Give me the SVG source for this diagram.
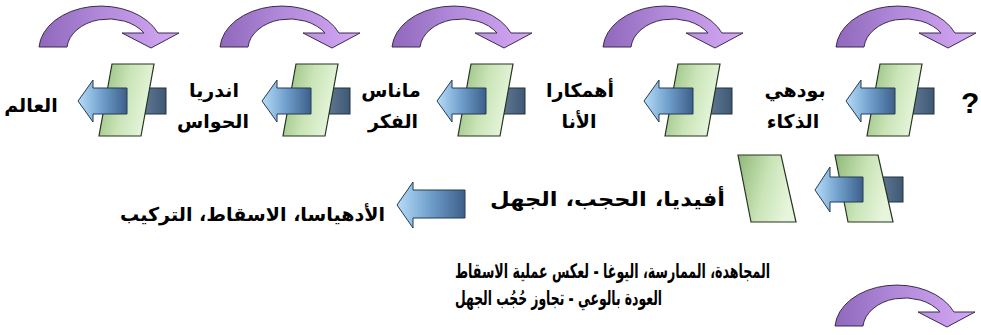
<svg xmlns="http://www.w3.org/2000/svg" xmlns:xlink="http://www.w3.org/1999/xlink" width="981" height="335" viewBox="0 0 981 335">
<style>
.ar{font-family:'DejaVu Sans','Noto Sans',sans-serif;font-weight:bold;fill:#000;}
.lbl{font-size:19px;text-anchor:middle;}
.curve{fill:url(#gPurple);stroke:#3b2b4c;stroke-width:1;}
.tail{fill:url(#gSlate);stroke:#22323f;stroke-width:1;}
.page{fill:url(#gGreen);stroke:#263522;stroke-width:1.2;}
.barrow{fill:url(#gBlue);stroke:#243a55;stroke-width:1;}
</style>
<defs>
<linearGradient id="gPurple" x1="0" y1="0" x2="1" y2="0">
<stop offset="0" stop-color="#9068bc"/>
<stop offset="0.45" stop-color="#b28ada"/>
<stop offset="1" stop-color="#d4a8f4"/>
</linearGradient>
<linearGradient id="gSlate" x1="0" y1="0" x2="1" y2="0">
<stop offset="0" stop-color="#6e88a4"/>
<stop offset="1" stop-color="#3f5874"/>
</linearGradient>
<linearGradient id="gGreen" x1="0" y1="0" x2="1" y2="0.3">
<stop offset="0" stop-color="#8fb878"/>
<stop offset="0.55" stop-color="#c9e4b6"/>
<stop offset="1" stop-color="#e6f5dc"/>
</linearGradient>
<linearGradient id="gBlue" x1="0" y1="0" x2="1" y2="0">
<stop offset="0" stop-color="#b6dcf8"/>
<stop offset="0.5" stop-color="#6f9ecb"/>
<stop offset="1" stop-color="#3d5f8a"/>
</linearGradient>
<path id="curved" class="curve" d="M43,47 A62,44 0 0 1 162,33 L183,33 L155,48 L126,33 L148,33 A42,31 0 0 0 71,47 Z"/>
<g id="glyphR">
<rect class="tail" x="55" y="-13" width="33" height="26"/>
<polygon class="page" points="34,-37 76,-37 63,35 21,35"/>
<path class="barrow" d="M0,0 L15,-21 L15,-13 L49,-13 L49,13 L15,13 L15,21 Z"/>
</g>
</defs>

<g id="connectors">
<use xlink:href="#curved" transform="translate(-4,0)"/>
<use xlink:href="#curved" transform="translate(177,0)"/>
<use xlink:href="#curved" transform="translate(349,0)"/>
<use xlink:href="#curved" transform="translate(560,0)"/>
<use xlink:href="#curved" transform="translate(793,0)"/>
<use xlink:href="#curved" transform="translate(792,279)"/>
</g>

<g id="node-question">
<use xlink:href="#glyphR" transform="translate(846,101)"/>
<text x="961" y="113" font-family="'Liberation Sans',Arial,sans-serif" font-weight="bold" font-size="30">?</text>
</g>
<g id="node-buddhi">
<use xlink:href="#glyphR" transform="translate(644,101)"/>
<text class="ar lbl" x="795" y="97">بودهي</text>
<text class="ar lbl" x="793" y="128">الذكاء</text>
</g>
<g id="node-ahamkara">
<use xlink:href="#glyphR" transform="translate(437,101)"/>
<text class="ar lbl" x="580" y="97">أهمكارا</text>
<text class="ar lbl" x="579" y="128">الأنا</text>
</g>
<g id="node-manas">
<use xlink:href="#glyphR" transform="translate(262,101)"/>
<text class="ar lbl" x="391" y="97">ماناس</text>
<text class="ar lbl" x="393" y="128">الفكر</text>
</g>
<g id="node-indriya">
<use xlink:href="#glyphR" transform="translate(78,101)"/>
<text class="ar lbl" x="214" y="97">اندريا</text>
<text class="ar lbl" x="213" y="128">الحواس</text>
</g>
<g id="node-world">
<text class="ar lbl" x="31" y="112">العالم</text>
</g>

<g id="node-avidya">
<polygon class="page" points="738,155 781,155 796,222 751,222"/>
<rect class="tail" x="870" y="177" width="33" height="25"/>
<polygon class="page" points="835,155 878,155 893,222 848,222"/>
<path class="barrow" d="M815,190 L830,167 L830,177 L863,177 L863,202 L830,202 L830,212 Z"/>
<text class="ar" x="490" y="206" font-size="20" textLength="235" lengthAdjust="spacingAndGlyphs">أفيديا، الحجب، الجهل</text>
</g>
<g id="node-adhyasa">
<path class="barrow" d="M397,205 L413,182 L413,190 L465,190 L465,218 L413,218 L413,228 Z"/>
<text class="ar" x="120" y="221" font-size="19" textLength="265" lengthAdjust="spacingAndGlyphs">الأدهياسا، الاسقاط، التركيب</text>
</g>

<g id="node-practice">
<text class="ar" x="455" y="278" font-size="20" textLength="315" lengthAdjust="spacingAndGlyphs">المجاهدة، الممارسة، اليوغا - لعكس عملية الاسقاط</text>
<text class="ar" x="455" y="305" font-size="20" textLength="207" lengthAdjust="spacingAndGlyphs">العودة بالوعي - تجاوز  حُجُب الجهل</text>
</g>
</svg>
